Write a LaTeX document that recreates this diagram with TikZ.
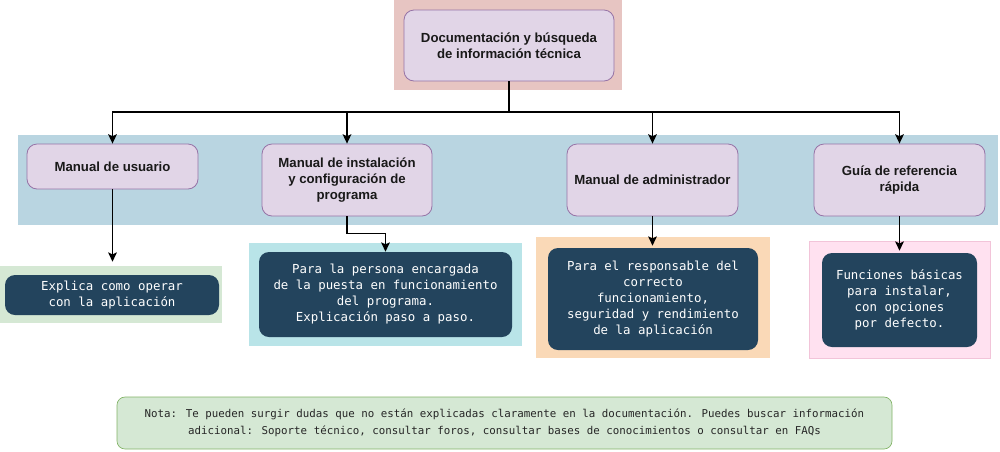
\documentclass[tikz,border=0pt]{standalone}
\usepackage{fontspec}
\setmainfont{Liberation Sans}
\newfontfamily\monofont{DejaVu Sans Mono}
\usetikzlibrary{arrows.meta}
\definecolor{bgtop}{HTML}{E7C5C2}
\definecolor{purplefill}{HTML}{E1D5E7}
\definecolor{purpleline}{HTML}{9673A6}
\definecolor{bgblue}{HTML}{B9D5E1}
\definecolor{bggreen}{HTML}{D5E8D4}
\definecolor{greenline}{HTML}{82B366}
\definecolor{bgcyan}{HTML}{B9E4E8}
\definecolor{bgorange}{HTML}{FAD9B7}
\definecolor{bgpink}{HTML}{FFE1F0}
\definecolor{pinkline}{HTML}{F2C4D9}
\definecolor{darkfill}{HTML}{23445D}
\tikzset{
  bgrect/.style={draw=none, inner sep=0pt},
  headbox/.style={draw=purpleline, fill=purplefill, rounded corners=7.5pt, line width=0.6pt,
    align=center, font=\fontsize{9.9}{12}\selectfont\bfseries, text=black!90, inner sep=0pt},
  darkbox/.style={draw=none, fill=darkfill, rounded corners=7.5pt, align=center,
    font=\monofont\fontsize{9.3}{12}\selectfont, text=white, inner sep=0pt},
  arr/.style={line width=1.1pt, -{Stealth[length=7pt,width=6.5pt,inset=1.5pt]}},
}
\begin{document}
\begin{tikzpicture}[x=0.75pt,y=-0.75pt]
\useasboundingbox (0,0) rectangle (1000,451);
% backgrounds
\node[bgrect, fill=bgtop, minimum width=171pt, minimum height=67.5pt] (bgt) at (508,45) {};
\node[bgrect, fill=bgblue, minimum width=735pt, minimum height=67.5pt] (bgb) at (508,180) {};
\node[bgrect, fill=bggreen, minimum width=166.5pt, minimum height=42.75pt] (bg1) at (111,294.5) {};
\node[bgrect, fill=bgcyan, minimum width=204.75pt, minimum height=77.25pt] (bg2) at (385.5,294.5) {};
\node[bgrect, fill=bgorange, minimum width=175.5pt, minimum height=90.75pt] (bg3) at (653,297.5) {};
\node[bgrect, fill=bgpink, draw=pinkline, line width=0.5pt, minimum width=135.75pt, minimum height=87.75pt] (bg4) at (899.5,299.5) {};
% head boxes
\node[headbox, minimum width=157.5pt, minimum height=53.25pt] (top) at (509,45.5) {Documentación y búsqueda\\de información técnica};
\node[headbox, minimum width=128.25pt, minimum height=33.75pt] (m1) at (112.5,166.5) {Manual de usuario};
\node[headbox, minimum width=127.5pt, minimum height=54pt] (m2) at (347,180) {Manual de instalación\\y configuración de\\programa};
\node[headbox, minimum width=128.25pt, minimum height=54pt] (m3) at (652.5,180) {Manual de administrador};
\node[headbox, minimum width=128.25pt, minimum height=54pt] (m4) at (899.5,180) {Guía de referencia\\rápida};
% dark boxes
\node[darkbox, minimum width=160.5pt, minimum height=30pt] (d1) at (112,295) {Explica como operar\\con la aplicación};
\node[darkbox, minimum width=189.75pt, minimum height=63.75pt] (d2) at (385.5,294.5) {Para la persona encargada\\de la puesta en funcionamiento\\del programa.\\Explicación paso a paso.};
\node[darkbox, minimum width=157.5pt, minimum height=76.5pt] (d3) at (653,299) {Para el responsable del\\correcto\\funcionamiento,\\seguridad y rendimiento\\de la aplicación};
\node[darkbox, minimum width=116.25pt, minimum height=70.5pt] (d4) at (899.5,300) {Funciones básicas\\para instalar,\\con opciones\\por defecto.};
% note
\node[draw=greenline, fill=bggreen, rounded corners=6pt, line width=0.5pt, minimum width=581.25pt, minimum height=39pt,
  align=center, font=\monofont\fontsize{8.1}{12.5}\selectfont, text=black!85, inner sep=0pt] (note) at (504.5,423)
  {Nota: Te pueden surgir dudas que no están explicadas claramente en la documentación. Puedes buscar información\\adicional: Soporte técnico, consultar foros, consultar bases de conocimientos o consultar en FAQs};
% connectors
\coordinate (j) at (509,112);
\draw[line width=1.1pt] (top.south) -- (j);
\draw[arr] (j) -| (m1.north);
\draw[arr] (j) -| (m2.north);
\draw[arr] (j) -| (m3.north);
\draw[arr] (j) -| (m4.north);
\draw[arr, shorten >=3pt] (m1.south) -- (m1.south |- bg1.north);
\draw[arr] (m2.south) -- ++(0,17) -| (d2.north);
\draw[arr, shorten >=1.5pt] (m3.south) -- (m3.south |- d3.north);
\draw[arr, shorten >=1.5pt] (m4.south) -- (m4.south |- d4.north);
\end{tikzpicture}
\end{document}
